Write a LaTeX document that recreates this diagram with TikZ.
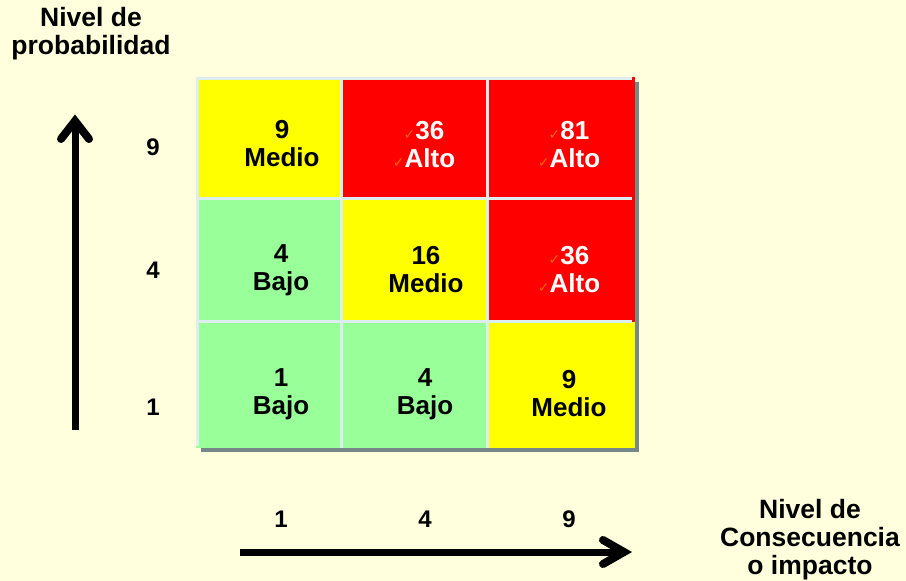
\documentclass[tikz,border=0pt]{standalone}
\usepackage{fontspec}
\setmainfont{Liberation Sans}
\newfontfamily\symfont{DejaVu Sans}
\definecolor{bgc}{HTML}{FFFFDD}
\definecolor{gridc}{HTML}{DDEEEE}
\definecolor{shadowc}{HTML}{778888}
\definecolor{cyel}{HTML}{FFFF00}
\definecolor{cred}{HTML}{FF0000}
\definecolor{cgrn}{HTML}{99FF99}
\definecolor{ckc}{HTML}{FF6600}
\newcommand{\ck}{{\symfont\fontsize{14}{14}\selectfont\textcolor{ckc}{✓}}}
\tikzset{
  celltext/.style={align=center,font=\fontsize{26}{28}\selectfont\bfseries,inner sep=0pt},
  redtext/.style={celltext,text=white},
  lbl/.style={font=\fontsize{24}{27}\selectfont\bfseries,inner sep=0pt},
  title/.style={align=center,font=\fontsize{26.5}{28}\selectfont\bfseries,inner sep=0pt},
  gline/.style={draw=gridc,line width=3pt},
  axis/.style={line width=7pt,draw=black},
  axhead/.style={line width=8pt,draw=black,line cap=round,line join=miter}
}
\begin{document}
\begin{tikzpicture}[x=1pt,y=-1pt]
\fill[bgc] (0,0) rectangle (906,581);
\useasboundingbox (0,0) rectangle (906,581);
% shadow
\fill[shadowc] (201,82) rectangle (639,452);
% cells
\fill[cyel] (196,77) rectangle (341.5,198.5);
\fill[cred] (341.5,77) rectangle (487,198.5);
\fill[cred] (487,77) rectangle (635,198.5);
\fill[cgrn] (196,198.5) rectangle (341.5,321.5);
\fill[cyel] (341.5,198.5) rectangle (487,321.5);
\fill[cred] (487,198.5) rectangle (635,321.5);
\fill[cgrn] (196,321.5) rectangle (341.5,448);
\fill[cgrn] (341.5,321.5) rectangle (487,448);
\fill[cyel] (487,321.5) rectangle (635,448);
% grid lines
\draw[gline] (197,76.5) -- (197,446);
\draw[gline] (341.5,76.5) -- (341.5,448);
\draw[gline] (487,76.5) -- (487,448);
\draw[gline] (195.5,78) -- (632,78);
\draw[gline] (195.5,198.5) -- (632,198.5);
\draw[gline] (195.5,321.5) -- (632,321.5);
% cell texts
\node[celltext] (c11) at (282,144) {9\\Medio};
\node[redtext]  (c12) at (424,145) {\ck36\\\ck Alto};
\node[redtext]  (c13) at (569,145) {\ck81\\\ck Alto};
\node[celltext] (c21) at (281,270) {4\\Bajo};
\node[celltext] (c22) at (426,270) {16\\Medio};
\node[redtext]  (c23) at (569,270) {\ck36\\\ck Alto};
\node[celltext] (c31) at (281,394) {1\\Bajo};
\node[celltext] (c32) at (425,394) {4\\Bajo};
\node[celltext] (c33) at (569,394) {9\\Medio};
% axis labels
\node[lbl] (r9) at (153,147) {9};
\node[lbl] (r4) at (153,270) {4};
\node[lbl] (r1) at (153,407) {1};
\node[lbl] (k1) at (281,519) {1};
\node[lbl] (k4) at (425,519) {4};
\node[lbl] (k9) at (569,519) {9};
\node[title] (ty) at (91,34) {Nivel de\\probabilidad};
\node[title] (tx) at (810,540) {Nivel de\\Consecuencia\\o impacto};
% vertical axis
\coordinate (vs) at (75,430);
\coordinate (ve) at (75,121);
\coordinate (vl) at (61,139);
\coordinate (vr) at (89,139);
\draw[axis] (vs) -- (ve);
\draw[axhead] (vl) -- (ve) -- (vr);
% horizontal axis
\coordinate (hs) at (240,552);
\coordinate (he) at (624,552);
\coordinate (hu) at (603,540);
\coordinate (hd) at (603,564);
\draw[axis] (hs) -- (he);
\draw[axhead] (hu) -- (he) -- (hd);
\end{tikzpicture}
\end{document}
